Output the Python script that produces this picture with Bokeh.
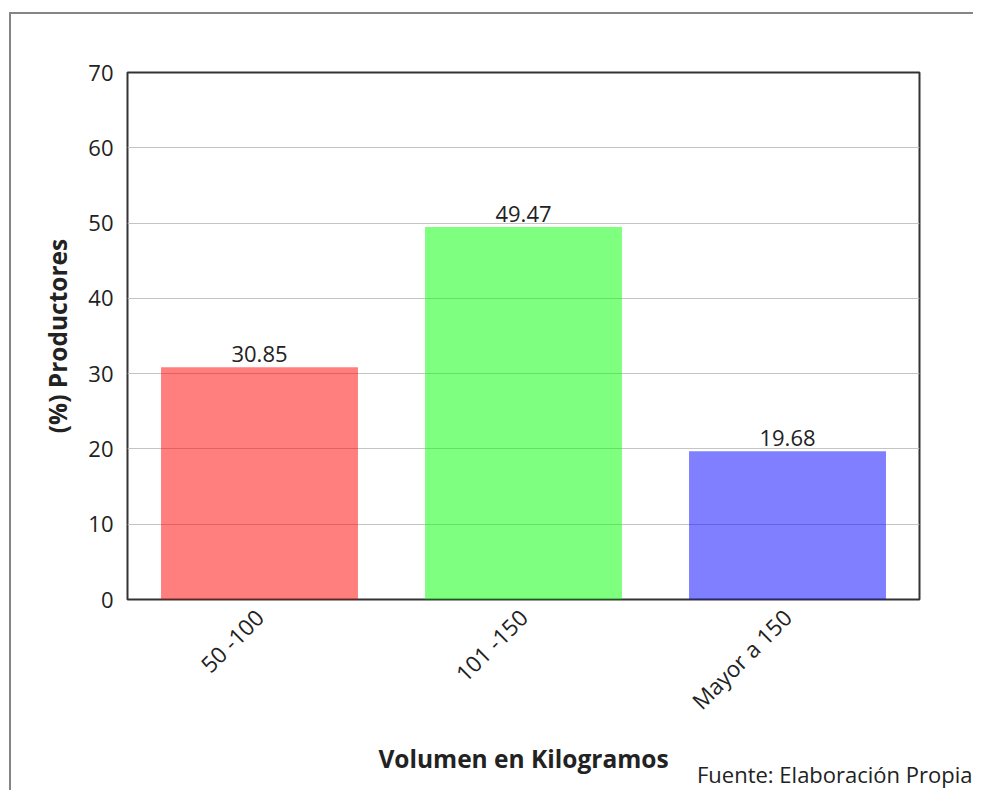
from bokeh.plotting import figure
from bokeh.models import ColumnDataSource, FixedTicker, Title
from bokeh.embed import file_html
from bokeh.resources import INLINE
from bokeh.core.properties import value
import math

categories = ["50 -100", "101 -150", "Mayor a 150"]
values = [30.85, 49.47, 19.68]
colors = ["#ff0000", "#00ff00", "#0000ff"]
labels = ["30.85", "49.47", "19.68"]
y_ticks = [0, 10, 20, 30, 40, 50, 60, 70]
source_note = "Fuente: Elaboración Propia"

FONT = "Open Sans"

src = ColumnDataSource(dict(cat=categories, val=values, col=colors, lab=labels))

p = figure(x_range=categories, y_range=(0, 70), frame_width=792, frame_height=527,
           output_backend="svg", toolbar_location=None, tools="",
           min_border_left=116, min_border_right=54, min_border_top=58, min_border_bottom=191,
           margin=(12, 0, 0, 9))
p.styles = {"border-left": "2px solid #858585", "border-top": "2px solid #858585"}

p.vbar(x="cat", top="val", width=0.746, source=src, fill_color="col", fill_alpha=0.5, line_color=None)
p.text(x="cat", y="val", text="lab", source=src, text_align="center", text_baseline="bottom",
       y_offset=-5, text_font=value(FONT), text_font_size="22px", text_color="#222222")

p.outline_line_color = "#333333"
p.outline_line_width = 2
p.xgrid.grid_line_color = None
p.ygrid.grid_line_color = "#c4c4c4"
p.ygrid.grid_line_width = 1
p.yaxis.ticker = FixedTicker(ticks=y_ticks)

for ax in (p.xaxis[0], p.yaxis[0]):
    ax.axis_line_color = None
    ax.major_tick_line_color = None
    ax.minor_tick_line_color = None
    ax.major_tick_out = 0
    ax.major_tick_in = 0
    ax.major_label_text_font = FONT
    ax.major_label_text_font_size = "22px"
    ax.major_label_text_color = "#222222"
    ax.axis_label_text_font = FONT
    ax.axis_label_text_font_size = "24.5px"
    ax.axis_label_text_font_style = "bold"
    ax.axis_label_text_color = "#222222"

p.xaxis.major_label_text_font_size = "22.5px"
p.yaxis.axis_label = "(%) Productores"
p.yaxis.major_label_standoff = 14
p.yaxis.axis_label_standoff = 11
p.xaxis.axis_label = "Volumen en Kilogramos"
p.xaxis.major_label_orientation = math.pi / 4
p.xaxis.major_label_standoff = 14
p.xaxis.axis_label_standoff = 12

note = Title(text=source_note, align="right", vertical_align="top", offset=-53, standoff=-40,
             text_font=FONT, text_font_size="22px", text_font_style="normal",
             text_color="#222222")
p.add_layout(note, "below")

open("out.html", "w").write(file_html(p, INLINE))
